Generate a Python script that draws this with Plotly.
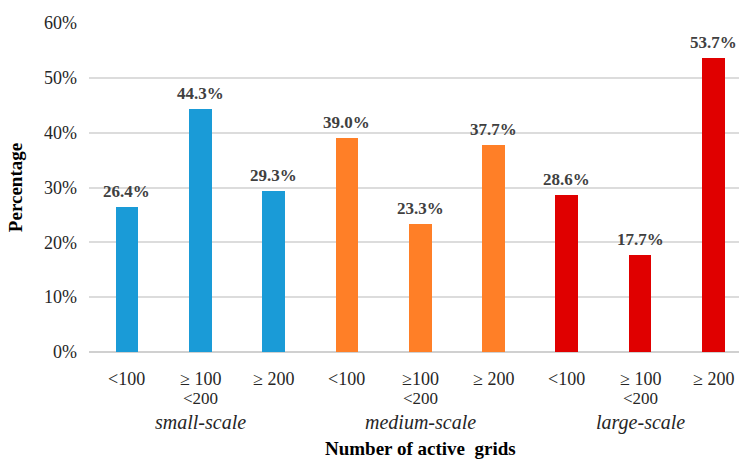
import plotly.graph_objects as go

# ---- data ----
categories = ["<100", "\u2265 100", "\u2265 200", "<100", "\u2265100", "\u2265 200", "<100", "\u2265 100", "\u2265 200"]
second_line = ["", "<200", "", "", "<200", "", "", "<200", ""]
groups = ["small-scale", "medium-scale", "large-scale"]
values = [26.4, 44.3, 29.3, 39.0, 23.3, 37.7, 28.6, 17.7, 53.7]
group_colors = ["#1a9bd7", "#ff7f27", "#e00000"]
y_ticks = [0, 10, 20, 30, 40, 50, 60]

xpos = list(range(len(values)))
colors = [group_colors[i // 3] for i in xpos]

FONT = "Liberation Serif"
TXT = "#262626"

fig = go.Figure()
fig.add_trace(go.Bar(
    x=xpos, y=values, width=0.31,
    marker=dict(color=colors, line=dict(width=0)),
    hoverinfo="skip",
))

ann = []
for x, v in zip(xpos, values):
    ann.append(dict(x=x, y=v, xref="x", yref="y", text=f"<b>{v:.1f}%</b>",
                    showarrow=False, yanchor="bottom", yshift=4,
                    font=dict(family=FONT, size=17, color="#404040")))
for x, t1, t2 in zip(xpos, categories, second_line):
    ann.append(dict(x=x, y=0, xref="x", yref="paper", text=t1, showarrow=False,
                    yanchor="middle", yshift=-27,
                    font=dict(family=FONT, size=18, color=TXT)))
    if t2:
        ann.append(dict(x=x, y=0, xref="x", yref="paper", text=t2, showarrow=False,
                        yanchor="middle", yshift=-46,
                        font=dict(family=FONT, size=17, color=TXT)))
for gi, g in enumerate(groups):
    ann.append(dict(x=gi * 3 + 1, y=0, xref="x", yref="paper", text=f"<i>{g}</i>",
                    showarrow=False, yanchor="middle", yshift=-70,
                    font=dict(family=FONT, size=20, color=TXT)))
ann.append(dict(x=4, y=0, xref="x", yref="paper", text="<b>Number of active\u00a0 grids</b>",
                showarrow=False, yanchor="middle", yshift=-96,
                font=dict(family=FONT, size=19, color="#000000")))

fig.update_layout(
    width=739, height=459,
    margin=dict(l=89, r=0, t=23, b=107),
    paper_bgcolor="white", plot_bgcolor="white",
    showlegend=False,
    bargap=0,
    annotations=ann,
    xaxis=dict(range=[-0.518, 8.35], showticklabels=False, showgrid=False,
               zeroline=False, showline=False, ticks=""),
    yaxis=dict(range=[0, 60], tickvals=y_ticks, ticktext=[f"{t}%" for t in y_ticks],
               showgrid=True, gridcolor="#dcdcdc", gridwidth=1.5,
               zeroline=True, zerolinecolor="#d0d0d0", zerolinewidth=1.5,
               showline=False, ticks="", ticklabelstandoff=11,
               tickfont=dict(family=FONT, size=18, color=TXT),
               title=dict(text="<b>Percentage</b>", standoff=16,
                          font=dict(family=FONT, size=19, color="#000000"))),
)

fig.write_html("out.html")
